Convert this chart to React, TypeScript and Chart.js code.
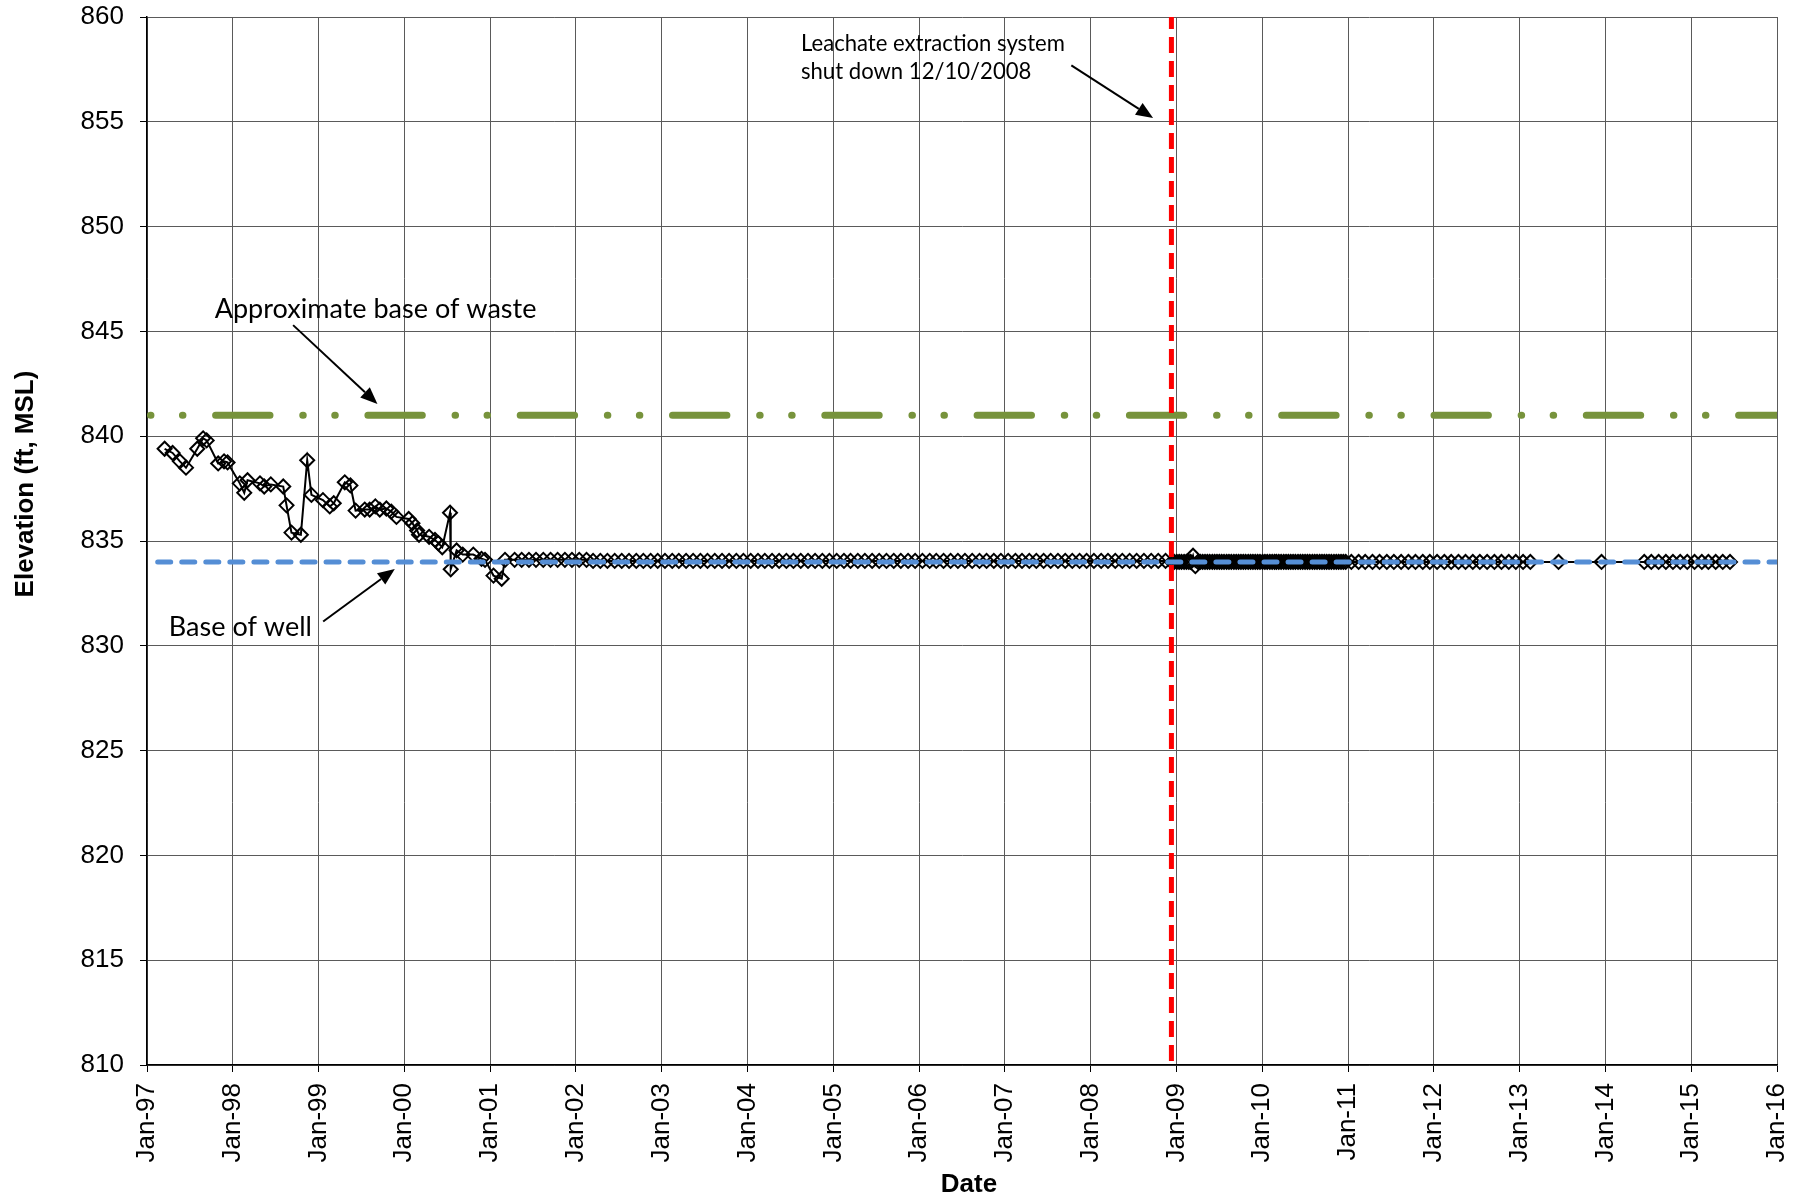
import React, { useEffect, useRef } from "react";
import { Chart, registerables } from "chart.js";

Chart.register(...registerables);

// ---------- Axis definitions ----------
const tickYears = [1997, 1998, 1999, 2000, 2001, 2002, 2003, 2004, 2005, 2006, 2007, 2008, 2009, 2010, 2011, 2012, 2013, 2014, 2015, 2016];
const tickLabels = ["Jan-97", "Jan-98", "Jan-99", "Jan-00", "Jan-01", "Jan-02", "Jan-03", "Jan-04", "Jan-05", "Jan-06", "Jan-07", "Jan-08", "Jan-09", "Jan-10", "Jan-11", "Jan-12", "Jan-13", "Jan-14", "Jan-15", "Jan-16"];
const yMin = 810;
const yMax = 860;
const yStep = 5;

// ---------- Reference levels ----------
const baseOfWaste = 841;
const baseOfWell = 834;
const shutdownDate = "2008-12-10";

// ---------- Measured leachate elevations ----------
const datesEarly = [
  "1997-03-17", "1997-04-20", "1997-05-21", "1997-06-16", "1997-08-03", "1997-08-28", "1997-09-12", "1997-10-31", "1997-11-25", "1997-12-10",
  "1998-01-31", "1998-02-19", "1998-03-05", "1998-04-27", "1998-05-15", "1998-06-12", "1998-08-04", "1998-08-18", "1998-09-08", "1998-10-18", "1998-11-14", "1998-12-02",
  "1999-01-20", "1999-02-18", "1999-03-07", "1999-04-23", "1999-05-17", "1999-06-08", "1999-07-17", "1999-08-07", "1999-08-31", "1999-09-19", "1999-10-17", "1999-11-07", "1999-11-29",
  "2000-01-20", "2000-02-05", "2000-02-25", "2000-03-04", "2000-04-16", "2000-05-11", "2000-05-25", "2000-06-11", "2000-07-14", "2000-07-17", "2000-08-11", "2000-09-06", "2000-10-21", "2000-11-25", "2000-12-10",
  "2001-01-15", "2001-02-19", "2001-03-05",
];
const levelsEarly = [
  839.4, 839.2, 838.8, 838.5, 839.4, 839.9, 839.8, 838.7, 838.8, 838.75,
  837.75, 837.3, 837.9, 837.75, 837.6, 837.7, 837.6, 836.7, 835.4, 835.3, 838.85, 837.2,
  836.95, 836.65, 836.8, 837.8, 837.65, 836.45, 836.5, 836.5, 836.65, 836.5, 836.55, 836.4, 836.15,
  836.05, 835.85, 835.5, 835.3, 835.2, 835.05, 834.9, 834.7, 836.35, 833.65, 834.55, 834.35, 834.35, 834.15, 834.1,
  833.35, 833.2, 834.1,
];

const monthsMonitoring = [
  "2001-04", "2001-05", "2001-06", "2001-07", "2001-08", "2001-09", "2001-10", "2001-11", "2001-12",
  "2002-01", "2002-02", "2002-03", "2002-04", "2002-05", "2002-06", "2002-07", "2002-08", "2002-09", "2002-10", "2002-11", "2002-12",
  "2003-01", "2003-02", "2003-03", "2003-04", "2003-05", "2003-06", "2003-07", "2003-08", "2003-09", "2003-10", "2003-11", "2003-12",
  "2004-01", "2004-02", "2004-03", "2004-04", "2004-05", "2004-06", "2004-07", "2004-08", "2004-09", "2004-10", "2004-11", "2004-12",
  "2005-01", "2005-02", "2005-03", "2005-04", "2005-05", "2005-06", "2005-07", "2005-08", "2005-09", "2005-10", "2005-11", "2005-12",
  "2006-01", "2006-02", "2006-03", "2006-04", "2006-05", "2006-06", "2006-07", "2006-08", "2006-09", "2006-10", "2006-11", "2006-12",
  "2007-01", "2007-02", "2007-03", "2007-04", "2007-05", "2007-06", "2007-07", "2007-08", "2007-09", "2007-10", "2007-11", "2007-12",
  "2008-01", "2008-02", "2008-03", "2008-04", "2008-05", "2008-06", "2008-07", "2008-08", "2008-09", "2008-10", "2008-11",
];
const levelsMonitoring = [
  834.1, 834.1, 834.1, 834.1, 834.1, 834.1, 834.1, 834.1, 834.1,
  834.1, 834.1, 834.05, 834.05, 834.05, 834.05, 834.05, 834.05, 834.05, 834.05, 834.05, 834.05,
  834.05, 834.05, 834.05, 834.05, 834.05, 834.05, 834.05, 834.05, 834.05, 834.05, 834.05, 834.05,
  834.05, 834.05, 834.05, 834.05, 834.05, 834.05, 834.05, 834.05, 834.05, 834.05, 834.05, 834.05,
  834.05, 834.05, 834.05, 834.05, 834.05, 834.05, 834.05, 834.05, 834.05, 834.05, 834.05, 834.05,
  834.05, 834.05, 834.05, 834.05, 834.05, 834.05, 834.05, 834.05, 834.05, 834.05, 834.05, 834.05,
  834.05, 834.05, 834.05, 834.05, 834.05, 834.05, 834.05, 834.05, 834.05, 834.05, 834.05, 834.05,
  834.05, 834.05, 834.05, 834.05, 834.05, 834.05, 834.05, 834.05, 834.05, 834.05, 834.05,
];

const datesTransducer = [
  "2008-12-12", "2008-12-22",
  "2009-01-02", "2009-01-12", "2009-01-22", "2009-02-02", "2009-02-12", "2009-02-22", "2009-03-02", "2009-03-12", "2009-03-22",
  "2009-04-02", "2009-04-12", "2009-04-22", "2009-05-02", "2009-05-12", "2009-05-22", "2009-06-02", "2009-06-12", "2009-06-22",
  "2009-07-02", "2009-07-12", "2009-07-22", "2009-08-02", "2009-08-12", "2009-08-22", "2009-09-02", "2009-09-12", "2009-09-22",
  "2009-10-02", "2009-10-12", "2009-10-22", "2009-11-02", "2009-11-12", "2009-11-22", "2009-12-02", "2009-12-12", "2009-12-22",
  "2010-01-02", "2010-01-12", "2010-01-22", "2010-02-02", "2010-02-12", "2010-02-22", "2010-03-02", "2010-03-12", "2010-03-22",
  "2010-04-02", "2010-04-12", "2010-04-22", "2010-05-02", "2010-05-12", "2010-05-22", "2010-06-02", "2010-06-12", "2010-06-22",
  "2010-07-02", "2010-07-12", "2010-07-22", "2010-08-02", "2010-08-12", "2010-08-22", "2010-09-02", "2010-09-12", "2010-09-22",
  "2010-10-02", "2010-10-12", "2010-10-22", "2010-11-02", "2010-11-12", "2010-11-22", "2010-12-02", "2010-12-12", "2010-12-22",
];
const levelsTransducer = [
  834.0, 834.0,
  834.0, 834.0, 834.0, 834.0, 834.0, 834.0, 834.0, 834.3, 833.8,
  834.0, 834.0, 834.0, 834.0, 834.0, 834.0, 834.0, 834.0, 834.0,
  834.0, 834.0, 834.0, 834.0, 834.0, 834.0, 834.0, 834.0, 834.0,
  834.0, 834.0, 834.0, 834.0, 834.0, 834.0, 834.0, 834.0, 834.0,
  834.0, 834.0, 834.0, 834.0, 834.0, 834.0, 834.0, 834.0, 834.0,
  834.0, 834.0, 834.0, 834.0, 834.0, 834.0, 834.0, 834.0, 834.0,
  834.0, 834.0, 834.0, 834.0, 834.0, 834.0, 834.0, 834.0, 834.0,
  834.0, 834.0, 834.0, 834.0, 834.0, 834.0, 834.0, 834.0, 834.0,
];

const monthsLate = [
  "2011-01", "2011-02", "2011-03", "2011-04", "2011-05", "2011-06", "2011-07", "2011-08", "2011-09", "2011-10", "2011-11", "2011-12",
  "2012-01", "2012-02", "2012-03", "2012-04", "2012-05", "2012-06", "2012-07", "2012-08", "2012-09", "2012-10", "2012-11", "2012-12",
  "2013-01", "2013-02", "2013-06", "2013-12",
  "2014-06", "2014-07", "2014-08", "2014-09", "2014-10", "2014-11", "2014-12",
  "2015-01", "2015-02", "2015-03", "2015-04", "2015-05", "2015-06",
];
const levelsLate = [
  834.0, 834.0, 834.0, 834.0, 834.0, 834.0, 834.0, 834.0, 834.0, 834.0, 834.0, 834.0,
  834.0, 834.0, 834.0, 834.0, 834.0, 834.0, 834.0, 834.0, 834.0, 834.0, 834.0, 834.0,
  834.0, 834.0, 834.0, 834.0,
  834.0, 834.0, 834.0, 834.0, 834.0, 834.0, 834.0,
  834.0, 834.0, 834.0, 834.0, 834.0, 834.0,
];

// ---------- Annotation texts ----------
const wasteLabel = "Approximate base of waste";
const wellLabel = "Base of well";
const shutdownLabel = ["Leachate extraction system", "shut down 12/10/2008"];
const yTitle = "Elevation (ft, MSL)";
const xTitle = "Date";

// ---------- helpers ----------
const dayTs = (d: string) => Date.parse(d + "T00:00:00Z");
const monthTs = (m: string) => Date.parse(m + "-15T00:00:00Z");
const yearTs = (y: number) => Date.UTC(y, 0, 1);

const FONT = '"Liberation Sans", Arial, Helvetica, sans-serif';
const NOTE_FONT = 'Lato, "Open Sans", sans-serif';

function drawArrow(ctx: CanvasRenderingContext2D, x1: number, y1: number, x2: number, y2: number) {
  const ang = Math.atan2(y2 - y1, x2 - x1);
  const L = 17;
  const W = 7;
  const bx = x2 - L * Math.cos(ang);
  const by = y2 - L * Math.sin(ang);
  ctx.beginPath();
  ctx.moveTo(x1, y1);
  ctx.lineTo(bx, by);
  ctx.lineWidth = 2;
  ctx.strokeStyle = "#000";
  ctx.stroke();
  ctx.beginPath();
  ctx.moveTo(x2, y2);
  ctx.lineTo(bx + W * Math.sin(ang), by - W * Math.cos(ang));
  ctx.lineTo(bx - W * Math.sin(ang), by + W * Math.cos(ang));
  ctx.closePath();
  ctx.fillStyle = "#000";
  ctx.fill();
}

function fitSize(ctx: CanvasRenderingContext2D, text: string, target: number) {
  ctx.font = `30px ${NOTE_FONT}`;
  const w = ctx.measureText(text).width;
  return (30 * target) / w;
}

const annotationPlugin = {
  id: "notes",
  afterDraw(chart: any) {
    const ctx: CanvasRenderingContext2D = chart.ctx;
    const xs = chart.scales.x;
    const ys = chart.scales.y;
    const px = (d: string) => xs.getPixelForValue(dayTs(d));
    const py = (v: number) => ys.getPixelForValue(v);
    ctx.save();
    ctx.fillStyle = "#000";
    ctx.textBaseline = "alphabetic";
    ctx.textAlign = "left";

    const s1 = fitSize(ctx, wasteLabel, 322);
    ctx.font = `${s1}px ${NOTE_FONT}`;
    ctx.fillText(wasteLabel, px("1997-10-16"), py(845.64));
    ctx.fillText(wellLabel, px("1997-04-04"), py(830.48));

    const s2 = fitSize(ctx, shutdownLabel[0], 264);
    ctx.font = `${s2}px ${NOTE_FONT}`;
    ctx.fillText(shutdownLabel[0], px("2004-08-16"), py(858.4));
    ctx.fillText(shutdownLabel[1], px("2004-08-16"), py(857.02));

    drawArrow(ctx, px("1998-09-15"), py(845.3), px("1999-09-09"), py(841.54));
    drawArrow(ctx, px("1999-01-21"), py(831.16), px("1999-11-22"), py(833.67));
    drawArrow(ctx, px("2007-10-11"), py(857.69), px("2008-09-23"), py(855.18));

    // axis titles
    ctx.font = `bold 26px ${FONT}`;
    ctx.textAlign = "center";
    ctx.textBaseline = "middle";
    ctx.fillText(xTitle, 969, 1185);

    ctx.save();
    ctx.translate(26, 484);
    ctx.rotate(-Math.PI / 2);
    ctx.fillText(yTitle, 0, 0);
    ctx.restore();

    ctx.restore();
  },
};

export default function App() {
  const canvasRef = useRef<HTMLCanvasElement | null>(null);

  useEffect(() => {
    document.body.style.margin = "0";
    const canvas = canvasRef.current;
    if (!canvas) return;

    const measured = [
      ...datesEarly.map((d, i) => ({ x: dayTs(d), y: levelsEarly[i] })),
      ...monthsMonitoring.map((m, i) => ({ x: monthTs(m), y: levelsMonitoring[i] })),
      ...datesTransducer.map((d, i) => ({ x: dayTs(d), y: levelsTransducer[i] })),
      ...monthsLate.map((m, i) => ({ x: monthTs(m), y: levelsLate[i] })),
    ];
    const xStart = yearTs(tickYears[0]);
    const xEnd = yearTs(tickYears[tickYears.length - 1]);

    const chart = new Chart(canvas, {
      type: "line",
      data: {
        datasets: [
          {
            label: "Leachate extraction shutdown",
            data: [
              { x: dayTs(shutdownDate), y: yMax },
              { x: dayTs(shutdownDate), y: yMin },
            ],
            borderColor: "#FF0000",
            borderWidth: 5,
            borderDash: [16, 8],
            borderDashOffset: 4,
            pointRadius: 0,
            clip: 0,
            order: 0,
          } as any,
          {
            label: "Approximate base of waste",
            data: [
              { x: xStart, y: baseOfWaste },
              { x: xEnd, y: baseOfWaste },
            ],
            borderColor: "#77933C",
            borderWidth: 7,
            borderCapStyle: "round",
            borderDash: [54.4, 32.75, 0.5, 31.5, 0.5, 32.65],
            borderDashOffset: 83.7,
            pointRadius: 0,
            clip: 0,
            order: 1,
          } as any,
          {
            label: "Base of well",
            data: [
              { x: xStart, y: baseOfWell },
              { x: xEnd, y: baseOfWell },
            ],
            borderColor: "#558ED5",
            borderWidth: 5,
            borderCapStyle: "round",
            borderDash: [13, 11.05],
            borderDashOffset: 13.35,
            pointRadius: 0,
            clip: 0,
            order: 2,
          } as any,
          {
            label: "Leachate elevation",
            data: measured,
            borderColor: "#000",
            borderWidth: 2,
            pointStyle: "rectRot",
            pointRadius: 7,
            pointBorderWidth: 2,
            pointBorderColor: "#000",
            pointBackgroundColor: "rgba(255,255,255,0)",
            order: 3,
          } as any,
        ],
      },
      options: {
        animation: false,
        responsive: false,
        devicePixelRatio: 1,
        events: [],
        layout: { padding: { left: 0, right: 27, top: 17, bottom: 0 } },
        plugins: {
          legend: { display: false },
          tooltip: { enabled: false },
        },
        scales: {
          x: {
            type: "linear",
            min: xStart,
            max: xEnd,
            afterBuildTicks: (scale: any) => {
              scale.ticks = tickYears.map((y) => ({ value: yearTs(y) }));
            },
            afterFit: (scale: any) => {
              scale.height = 139;
              scale.paddingLeft = 0;
              scale.paddingRight = 0;
            },
            ticks: {
              autoSkip: false,
              minRotation: 90,
              maxRotation: 90,
              padding: 11,
              color: "#000",
              font: { family: FONT, size: 26 },
              callback: (_v: any, i: number) => tickLabels[i],
            },
            grid: { color: "#5a5a5a", lineWidth: 1, tickLength: 7, tickColor: "#000" },
            border: { color: "#000", width: 1.5 },
            title: { display: false },
          },
          y: {
            type: "linear",
            min: yMin,
            max: yMax,
            afterFit: (scale: any) => {
              scale.width = 147;
              scale.paddingTop = 0;
              scale.paddingBottom = 0;
            },
            ticks: {
              stepSize: yStep,
              padding: 16,
              color: "#000",
              font: { family: FONT, size: 26 },
            },
            grid: { color: "#5a5a5a", lineWidth: 1, tickLength: 7, tickColor: "#000" },
            border: { color: "#000", width: 1.5 },
          },
        },
      } as any,
      plugins: [annotationPlugin],
    });

    return () => chart.destroy();
  }, []);

  return (
    <div style={{ position: "absolute", left: 0, top: 0, width: 1804, height: 1204, background: "#fff" }}>
      <canvas ref={canvasRef} width={1804} height={1204} style={{ width: 1804, height: 1204, display: "block" }} />
    </div>
  );
}
